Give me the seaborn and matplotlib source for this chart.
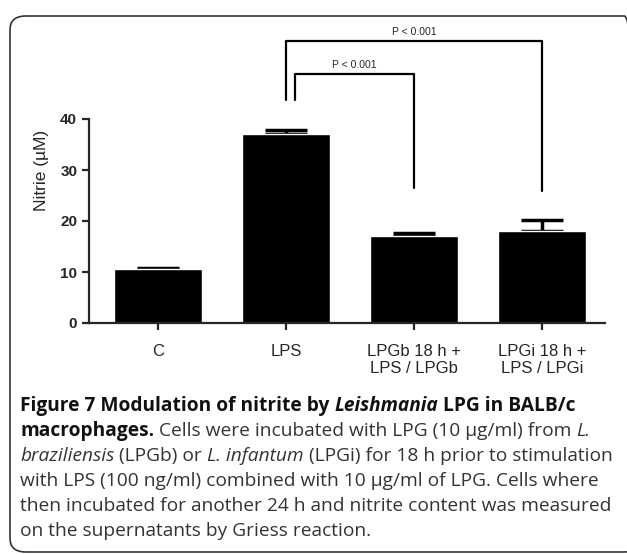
import matplotlib
matplotlib.use('Agg')
import matplotlib.pyplot as plt
import seaborn as sns
import pandas as pd
from matplotlib.patches import FancyBboxPatch

# Data
groups = ['C', 'LPS', 'LPGb 18 h +\nLPS / LPGb', 'LPGi 18 h +\nLPS / LPGi']
means = [10.5, 37.0, 17.0, 18.0]
sems = [0.2, 0.9, 0.6, 2.2]
yticks = [0, 10, 20, 30, 40]

# brackets: (left x, right x, top y, left foot, right foot, label)
brackets = [
    (1.0, 3.0, 55.2, 43.7, 25.9, 'P < 0.001'),
    (1.07, 2.0, 48.8, 43.7, 26.5, 'P < 0.001'),
]

caption = [
    [('Figure 7 Modulation of nitrite by ', 'bold', 'normal'), ('Leishmania', 'bold', 'italic'),
     (' LPG in BALB/c', 'bold', 'normal')],
    [('macrophages.', 'bold', 'normal'), (' Cells were incubated with LPG (10 µg/ml) from ', 'normal', 'normal'),
     ('L.', 'normal', 'italic')],
    [('braziliensis', 'normal', 'italic'), (' (LPGb) or ', 'normal', 'normal'),
     ('L. infantum', 'normal', 'italic'), (' (LPGi) for 18 h prior to stimulation', 'normal', 'normal')],
    [('with LPS (100 ng/ml) combined with 10 µg/ml of LPG. Cells where', 'normal', 'normal')],
    [('then incubated for another 24 h and nitrite content was measured', 'normal', 'normal')],
    [('on the supernatants by Griess reaction.', 'normal', 'normal')],
]

df = pd.DataFrame({'group': groups, 'mean': means})

sns.set_style('ticks')
plt.rcParams['font.family'] = ['Liberation Sans', 'DejaVu Sans']

W, H = 627, 554
fig = plt.figure(figsize=(W / 100, H / 100), dpi=100)

# rounded frame
fig.patches.append(FancyBboxPatch((10 / W, 2 / H), 630 / W, 536 / H,
                                  boxstyle='round,pad=0,rounding_size=0.025',
                                  transform=fig.transFigure, fill=False,
                                  edgecolor='#333333', linewidth=1.2))

ax = fig.add_axes([89 / W, (554 - 323) / H, 516 / W, 306 / H])
sns.barplot(data=df, x='group', y='mean', color='black', width=0.69,
            saturation=1, ax=ax, zorder=2)
for i, (m, s) in enumerate(zip(means, sems)):
    ax.errorbar(i, m, yerr=[[0], [s]], color='black', capsize=15, capthick=2.5,
                elinewidth=2.5, zorder=1)

ax.set_xlim(-0.54, 3.49)
ax.set_ylim(0, 60)
ax.set_yticks(yticks)
ax.spines['left'].set_bounds(0, 40)
ax.spines['top'].set_visible(False)
ax.spines['right'].set_visible(False)
for sp in ['left', 'bottom']:
    ax.spines[sp].set_linewidth(1.6)
ax.tick_params(width=1.6, length=5)
ax.tick_params(axis='y', labelsize=11)
ax.tick_params(axis='x', labelsize=12, pad=10)
for lab in ax.get_yticklabels():
    lab.set_fontweight('bold')
ax.set_xlabel('')
ax.set_ylabel('Nitrie (\u00b5M)', fontsize=12.5, labelpad=8)

for x0, x1, top, f0, f1, lab in brackets:
    ax.plot([x0, x0, x1, x1], [f0, top, top, f1], color='black', lw=1.6,
            clip_on=False)
    ax.text((x0 + x1) / 2, top + 0.8, lab, ha='center', va='bottom', fontsize=7.5)

# caption, drawn segment by segment
fig.canvas.draw()
renderer = fig.canvas.get_renderer()
y = 406
for line in caption:
    x = 20
    for txt, weight, style in line:
        t = fig.text(x / W, 1 - y / H, txt, fontsize=13.8, fontweight=weight,
                     fontstyle=style, family=['Open Sans', 'DejaVu Sans'],
                     va='center', ha='left',
                     color='#111111' if weight == 'bold' else '#333333')
        bb = t.get_window_extent(renderer)
        x += bb.width
    y += 25

fig.savefig('out.png', dpi=100)
